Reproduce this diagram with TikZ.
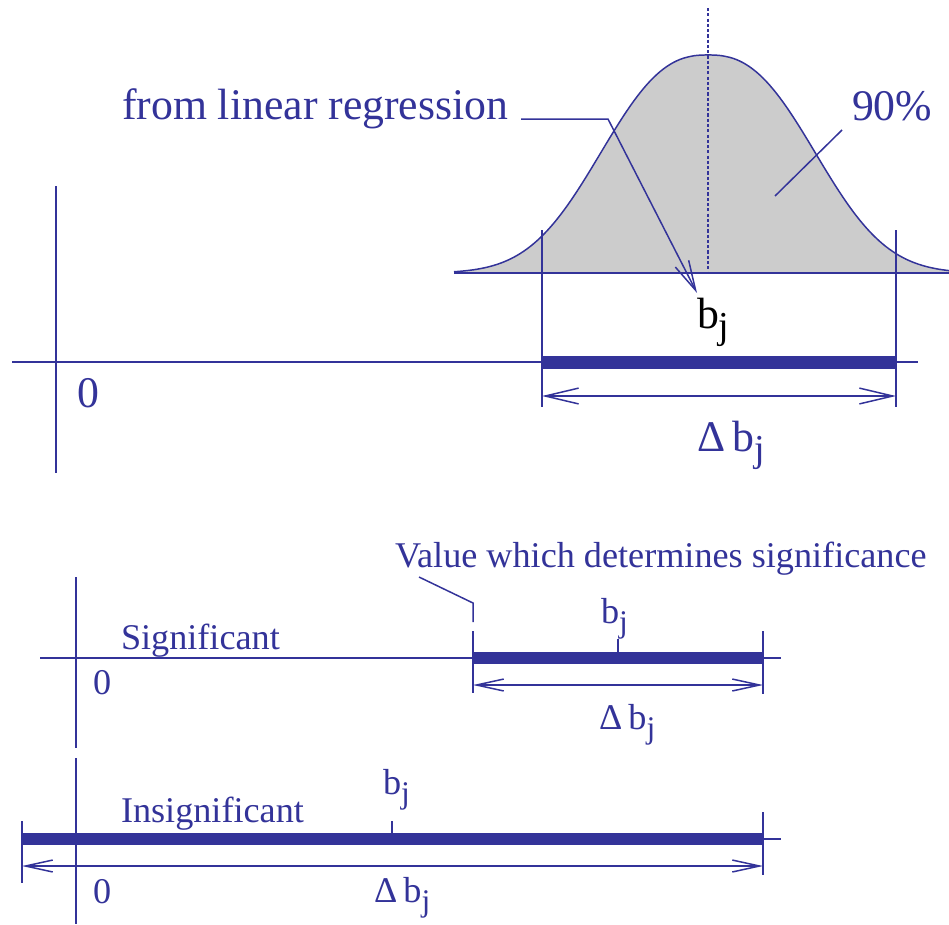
\documentclass[tikz,border=0pt]{standalone}
\usepackage{fontspec}
\setmainfont{Liberation Serif}
\usepackage{graphicx}
\usetikzlibrary{arrows.meta}
\definecolor{fblue}{RGB}{51,51,153}
\definecolor{gfill}{RGB}{204,204,204}
\newcommand\bjsub{b\raisebox{-0.25em}{\scalebox{0.87}{j}}}
\newcommand\dbjsub{Δ\hspace{0.17em}\bjsub}
\tikzset{
  thinln/.style={draw=fblue, line width=0.85pt},
  barln/.style={draw=fblue, line width=#1},
  bigtxt/.style={font=\fontsize{24.9pt}{30pt}\selectfont, text=fblue, anchor=base west, inner sep=0pt, outer sep=0pt},
  midtxt/.style={font=\fontsize{20.6pt}{24pt}\selectfont, text=fblue, anchor=base west, inner sep=0pt, outer sep=0pt},
  dimA/.style={thinln, {Straight Barb[length=19pt,width=9pt]}-{Straight Barb[length=19pt,width=9pt]}},
  dimB/.style={thinln, {Straight Barb[length=15.5pt,width=6.8pt]}-{Straight Barb[length=15.5pt,width=6.8pt]}},
  leadarrow/.style={thinln, -{Straight Barb[length=17pt,width=8.5pt]}},
  dotln/.style={draw=fblue, line width=0.85pt, dash pattern=on 1.8pt off 1.2pt}
}
\begin{document}
\begin{tikzpicture}[x=0.02cm, y=-0.02cm]
\useasboundingbox (0,0) rectangle (949,924);

% ---------------- top: distribution ----------------
\fill[gfill] (454,273) -- plot[domain=-254:241, samples=150]
   ({708+\x},{273-218*exp(-((abs(\x)+0.01)/132)^2.5)}) -- (949,273) -- cycle;
\draw[thinln] plot[domain=-254:241, samples=150]
   ({708+\x},{273-218*exp(-((abs(\x)+0.01)/132)^2.5)});
\coordinate (gL) at (454,273);
\coordinate (gR) at (949,273);
\draw[thinln] (gL) -- (gR);
\coordinate (dotT) at (708,8);
\coordinate (dotB) at (708,273);
\draw[dotln] (dotT) -- (dotB);

% axes
\coordinate (ayT) at (56,186);
\coordinate (ayB) at (56,473);
\draw[thinln] (ayT) -- (ayB);
\coordinate (axL) at (12,362);
\coordinate (axR) at (918,362);
\draw[thinln] (axL) -- (axR);

% bar and ticks
\coordinate (b1L) at (542,362);
\coordinate (b1R) at (896,362);
\draw[barln=7.4pt] (b1L) -- (b1R);
\coordinate (t1LT) at (542,230);
\coordinate (t1LB) at (542,407);
\coordinate (t1RT) at (896,230);
\coordinate (t1RB) at (896,407);
\draw[thinln] (t1LT) -- (t1LB);
\draw[thinln] (t1RT) -- (t1RB);
\coordinate (d1L) at (542,396);
\coordinate (d1R) at (896,396);
\draw[dimA] (d1L) -- (d1R);

% labels
\node[bigtxt] (lr) at (122,119) {from linear regression};
\node[bigtxt] (p90) at (852,120) {90\%};
\node[bigtxt] (z0) at (77,407) {0};
\node[bigtxt, text=black] (bjtop) at (697,328) {\bjsub};
\node[bigtxt] (dbtop) at (697,451) {\dbjsub};

% leaders
\coordinate (lrA) at (521,119);
\coordinate (lrB) at (608,119);
\coordinate (lrTip) at (697,293);
\draw[leadarrow] (lrA) -- (lrB) -- (lrTip);
\coordinate (pA) at (842,130);
\coordinate (pB) at (775,196);
\draw[thinln] (pA) -- (pB);

% ---------------- middle: significant ----------------
\coordinate (myT) at (76,577);
\coordinate (myB) at (76,748);
\draw[thinln] (myT) -- (myB);
\coordinate (mxL) at (40,658);
\coordinate (mxR) at (781,658);
\draw[thinln] (mxL) -- (mxR);
\coordinate (b2L) at (473,658);
\coordinate (b2R) at (763,658);
\draw[barln=6.8pt] (b2L) -- (b2R);
\coordinate (t2LT) at (473,631);
\coordinate (t2LB) at (473,693);
\coordinate (t2RT) at (763,631);
\coordinate (t2RB) at (763,694);
\draw[thinln] (t2LT) -- (t2LB);
\draw[thinln] (t2RT) -- (t2RB);
\coordinate (bt2T) at (618,639);
\coordinate (bt2B) at (618,652);
\draw[thinln] (bt2T) -- (bt2B);
\coordinate (d2L) at (473,685);
\coordinate (d2R) at (763,685);
\draw[dimB] (d2L) -- (d2R);

\node[midtxt] (val) at (395,567) {Value which determines significance};
\coordinate (vA) at (419,577);
\coordinate (vB) at (473,603);
\coordinate (vC) at (473,622);
\draw[thinln] (vA) -- (vB) -- (vC);
\node[midtxt] (sig) at (121,649) {Significant};
\node[midtxt] (z1) at (93,694) {0};
\node[midtxt] (bjmid) at (601,623) {\bjsub};
\node[midtxt] (dbmid) at (599,729) {\dbjsub};

% ---------------- bottom: insignificant ----------------
\coordinate (byT) at (76,758);
\coordinate (byB) at (76,924);
\draw[thinln] (byT) -- (byB);
\coordinate (b3L) at (22,839);
\coordinate (b3R) at (763,839);
\draw[barln=6.8pt] (b3L) -- (b3R);
\coordinate (stubR) at (781,839);
\draw[thinln] (b3R) -- (stubR);
\coordinate (t3LT) at (22,821);
\coordinate (t3LB) at (22,883);
\coordinate (t3RT) at (763,812);
\coordinate (t3RB) at (763,875);
\draw[thinln] (t3LT) -- (t3LB);
\draw[thinln] (t3RT) -- (t3RB);
\coordinate (bt3T) at (392,821);
\coordinate (bt3B) at (392,833);
\draw[thinln] (bt3T) -- (bt3B);
\coordinate (d3L) at (22,866);
\coordinate (d3R) at (763,866);
\draw[dimB] (d3L) -- (d3R);

\node[midtxt] (insig) at (121,822) {Insignificant};
\node[midtxt] (bjbot) at (383,794) {\bjsub};
\node[midtxt] (z2) at (93,903) {0};
\node[midtxt] (dbbot) at (374,902) {\dbjsub};
\end{tikzpicture}
\end{document}
